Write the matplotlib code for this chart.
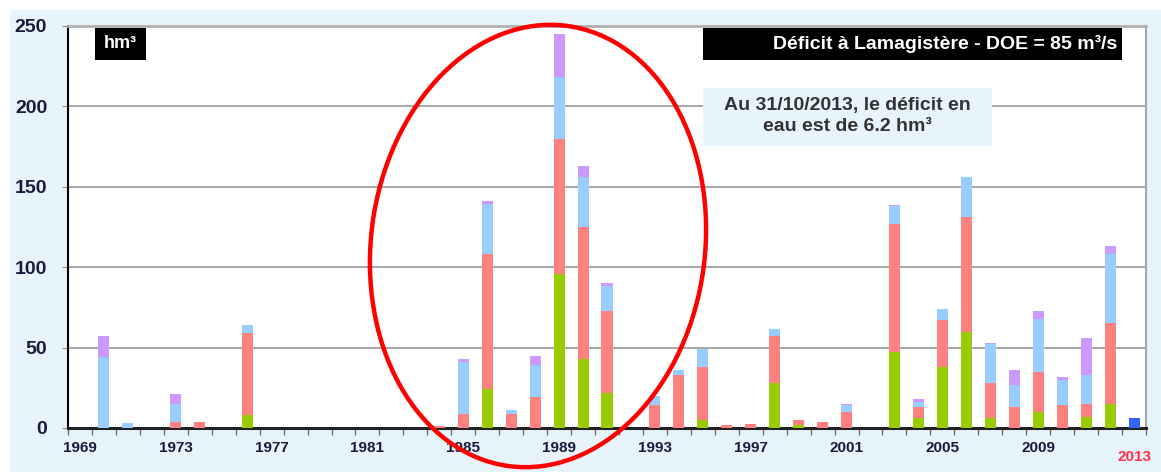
import numpy as np
import matplotlib
matplotlib.use("Agg")
import matplotlib.pyplot as plt
from matplotlib.patches import Rectangle, Ellipse
import matplotlib.transforms as mtransforms

# deficit volumes (hm3) per year, stacked bottom -> top
years = list(range(1969, 2014))
green = [0, 0, 0, 0, 0, 0, 0, 8, 0, 0,
         0, 0, 0, 0, 0, 0, 0, 24, 0, 0,
         96, 43, 22, 0, 0, 0, 5, 0, 0, 28,
         2, 0, 0, 0, 47, 6, 38, 60, 6, 0,
         10, 0, 7, 15, 0]
red = [0, 0, 0, 0, 4, 4, 0, 51, 0, 0,
       0, 0, 0, 0, 0, 1, 9, 84, 9, 19,
       84, 82, 51, 0, 14, 33, 33, 2, 2.5, 29,
       3, 4, 10, 0, 80, 7, 29, 71, 22, 13,
       25, 14, 8, 50, 0]
blue = [0, 44, 3, 0, 11, 0, 0, 5, 0, 0,
        0, 0, 0, 0, 0, 0, 32, 31, 2, 20,
        38, 31, 15, 0, 6, 3, 11, 0, 0, 4.5,
        0, 0, 4, 0, 11, 3, 7, 25, 24, 14,
        33, 16, 18, 43, 0]
purple = [0, 13, 0, 0, 6, 0, 0, 0, 0, 0,
          0, 0, 0, 0, 0, 0, 2, 2, 0, 6,
          27, 7, 2, 0, 0, 0, 0, 0, 0, 0,
          0, 0, 1, 0, 0.5, 2, 0, 0, 1, 9,
          5, 2, 23, 5, 0]
current_year = 2013
current_value = 6.2

label_years = list(range(1969, 2013, 4))
y_ticks = [0, 50, 100, 150, 200, 250]

title = "Déficit à Lamagistère - DOE = 85 m³/s"
unit = "hm³"
note = "Au 31/10/2013, le déficit en\neau est de 6.2 hm³"

W, H = 1161, 472
plt.rcParams['font.family'] = ['Liberation Sans', 'DejaVu Sans']

fig = plt.figure(figsize=(W / 100, H / 100), dpi=100)
fig.patch.set_facecolor("white")


def fx(px):
    return px / W


def fy(py):
    return 1 - py / H


# light blue frame behind the chart
fig.patches.append(Rectangle((fx(10), 0), 1 - fx(10), fy(10), transform=fig.transFigure,
                             facecolor="#e8f4fc", edgecolor="none", zorder=-10))

ax = fig.add_axes([fx(68), fy(428), fx(1146) - fx(68), fy(26) - fy(428)])
ax.set_facecolor("white")

x = np.arange(len(years))
g = np.array(green, dtype=float)
r = np.array(red, dtype=float)
b = np.array(blue, dtype=float)
p = np.array(purple, dtype=float)
cur = np.array([current_value if yr == current_year else 0 for yr in years])

bw = 0.46
ax.bar(x, g, bw, color="#99cc00", zorder=3)
ax.bar(x, r, bw, bottom=g, color="#ff8080", zorder=3)
ax.bar(x, b, bw, bottom=g + r, color="#99ccff", zorder=3)
ax.bar(x, p, bw, bottom=g + r + b, color="#cc99ff", zorder=3)
ax.bar(x, cur, bw, color="#3366ff", zorder=3)

ax.set_xlim(-0.5, len(years) - 0.5)
ax.set_ylim(0, 250)

ax.yaxis.grid(True, color="#a0a0a0", lw=1.3)
ax.set_axisbelow(True)

ax.set_yticks(y_ticks)
ax.set_yticklabels([str(v) for v in y_ticks], fontsize=14, fontweight="bold", color="#1a1a3a")
ax.tick_params(axis="y", length=4, color="#909090", pad=11)

# ticks between categories, labels at centres every 4 years
ax.set_xticks(np.arange(-0.5, len(years), 1))
ax.set_xticklabels([])
ax.tick_params(axis="x", which="major", length=5, color="#707070", width=1)
ax.set_xticks([years.index(yr) for yr in label_years], minor=True)
ax.set_xticklabels([str(yr) for yr in label_years], minor=True,
                   fontsize=11, fontweight="bold", color="#1a1a3a")
ax.tick_params(axis="x", which="minor", length=0, pad=9)

off = mtransforms.offset_copy(ax.transData, fig=fig, x=0, y=-22, units="dots")
ax.text(years.index(current_year), 0, str(current_year), transform=off,
        ha="center", va="top", fontsize=11, fontweight="bold", color="#ff3344")

ax.spines["left"].set_color("black")
ax.spines["left"].set_linewidth(1.5)
ax.spines["bottom"].set_color("#222222")
ax.spines["bottom"].set_linewidth(2.2)
ax.spines["top"].set_color("#b0b0b0")
ax.spines["top"].set_linewidth(2)
ax.spines["right"].set_color("#a8a8a8")
ax.spines["right"].set_linewidth(1.5)

# black label boxes
fig.patches.append(Rectangle((fx(95), fy(60)), fx(146) - fx(95), fy(28) - fy(60),
                             transform=fig.transFigure, facecolor="black", zorder=5))
fig.text(fx(120.5), fy(44), unit, ha="center", va="center", fontsize=13,
         fontweight="bold", color="white", zorder=6)

fig.patches.append(Rectangle((fx(703), fy(60)), fx(1122) - fx(703), fy(28) - fy(60),
                             transform=fig.transFigure, facecolor="black", zorder=5))
fig.text(fx(1117), fy(44), title, ha="right", va="center", fontsize=14,
         fontweight="bold", color="white", zorder=6)

# note box
fig.patches.append(Rectangle((fx(703), fy(146)), fx(992) - fx(703), fy(88) - fy(146),
                             transform=fig.transFigure, facecolor="#e8f4fc", zorder=5))
fig.text(fx(847.5), fy(116), note, ha="center", va="center", fontsize=14,
         fontweight="bold", color="#333333", linespacing=1.25, zorder=6)

# red ellipse around 1985-1991
ell = Ellipse((538 / 100, (H - 246) / 100), 3.34, 4.44, angle=-7.5,
              transform=fig.dpi_scale_trans, fill=False, edgecolor="#ff0000", lw=3.2, zorder=7)
fig.add_artist(ell)

fig.savefig("out.png", dpi=100)
